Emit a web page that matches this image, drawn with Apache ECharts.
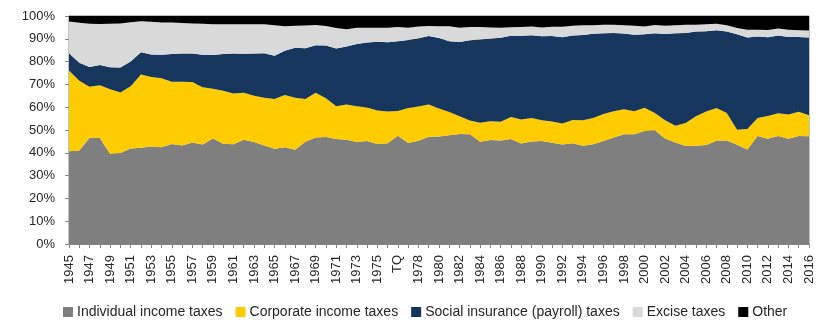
<!DOCTYPE html>
<html>
<head>
<meta charset="utf-8">
<script src="https://cdn.jsdelivr.net/npm/echarts@6/dist/echarts.min.js"></script>
<style>
  html, body { margin: 0; padding: 0; background: #ffffff; }
  #chart { width: 819px; height: 321px; }
</style>
</head>
<body>
<div id="chart"></div>
<script>
// Fiscal years, including the 1976 transition quarter (TQ)
const categories = [
  '1945','1946','1947','1948','1949','1950','1951','1952','1953','1954',
  '1955','1956','1957','1958','1959','1960','1961','1962','1963','1964',
  '1965','1966','1967','1968','1969','1970','1971','1972','1973','1974',
  '1975','1976','TQ','1977','1978','1979','1980','1981','1982','1983',
  '1984','1985','1986','1987','1988','1989','1990','1991','1992','1993',
  '1994','1995','1996','1997','1998','1999','2000','2001','2002','2003',
  '2004','2005','2006','2007','2008','2009','2010','2011','2012','2013',
  '2014','2015','2016'
];

// Share of total federal receipts by source, percent
const individualIncome = [
  40.7, 41.0, 46.6, 46.5, 39.5, 39.9, 41.9, 42.2, 42.8, 42.4,
  43.9, 43.2, 44.5, 43.6, 46.3, 44.0, 43.8, 45.7, 44.7, 43.2,
  41.8, 42.4, 41.3, 44.9, 46.7, 46.9, 46.1, 45.7, 44.7, 45.2,
  43.9, 44.2, 47.5, 44.3, 45.3, 47.0, 47.2, 47.7, 48.2, 48.1,
  44.8, 45.6, 45.4, 46.0, 44.1, 45.0, 45.2, 44.4, 43.6, 44.2,
  43.1, 43.7, 45.2, 46.7, 48.1, 48.1, 49.6, 49.9, 46.3, 44.5,
  43.0, 43.1, 43.4, 45.3, 45.4, 43.5, 41.5, 47.4, 46.2, 47.4,
  46.2, 47.4, 47.3
];
const corporateIncome = [
  35.4, 30.6, 22.4, 23.1, 28.4, 26.6, 27.3, 32.1, 30.5, 30.3,
  27.3, 28.0, 26.5, 25.2, 21.8, 23.2, 22.2, 20.6, 20.3, 20.9,
  21.8, 23.0, 22.8, 18.7, 19.6, 17.0, 14.3, 15.5, 15.7, 14.7,
  14.6, 13.9, 10.8, 15.4, 15.0, 14.2, 12.2, 10.2, 7.8, 6.1,
  8.4, 8.2, 8.2, 9.7, 10.5, 10.3, 9.1, 9.3, 9.2, 10.2,
  11.2, 11.6, 11.8, 11.5, 11.0, 10.1, 10.2, 7.6, 8.0, 7.4,
  10.1, 12.9, 14.7, 14.4, 12.1, 6.6, 8.9, 7.9, 9.9, 9.9,
  10.6, 10.6, 9.2
];
const socialInsurance = [
  7.6, 7.9, 8.6, 8.9, 9.6, 10.9, 10.8, 9.8, 9.8, 10.3,
  12.1, 12.4, 12.6, 14.2, 14.8, 16.1, 17.5, 17.1, 18.6, 19.6,
  19.0, 19.4, 22.0, 22.3, 20.9, 23.2, 25.3, 25.4, 27.3, 28.5,
  30.2, 30.4, 30.6, 29.8, 29.9, 30.0, 31.0, 31.0, 32.6, 35.2,
  36.5, 36.3, 36.9, 35.6, 36.7, 36.3, 36.8, 37.5, 37.9, 37.0,
  37.4, 36.9, 35.4, 34.3, 33.2, 33.6, 32.2, 34.9, 37.8, 40.5,
  39.4, 37.2, 35.2, 34.0, 35.7, 41.9, 40.2, 35.7, 34.6, 34.2,
  34.0, 32.8, 34.1
];
const excise = [
  13.9, 17.5, 19.0, 18.0, 19.1, 19.3, 17.3, 13.6, 14.4, 14.2,
  13.8, 13.3, 13.1, 13.6, 13.5, 13.1, 12.9, 13.0, 12.8, 12.7,
  13.3, 10.7, 9.6, 9.9, 8.9, 8.5, 9.0, 7.6, 7.1, 6.5,
  6.2, 6.4, 6.3, 5.4, 5.2, 4.4, 5.1, 6.6, 6.3, 5.8,
  5.5, 4.9, 4.4, 3.8, 3.9, 3.8, 3.9, 4.1, 4.6, 4.3,
  4.2, 3.7, 3.8, 3.7, 3.6, 3.9, 3.4, 3.7, 3.6, 3.5,
  3.7, 3.0, 3.1, 2.9, 2.7, 2.7, 3.4, 3.0, 3.2, 3.0,
  3.2, 3.0, 3.0
];
const other = [
  2.4, 3.0, 3.4, 3.5, 3.4, 3.3, 2.7, 2.3, 2.5, 2.8,
  2.9, 3.1, 3.3, 3.4, 3.6, 3.6, 3.6, 3.6, 3.6, 3.6,
  4.1, 4.5, 4.3, 4.2, 3.9, 4.4, 5.3, 5.8, 5.2, 5.1,
  5.1, 5.1, 4.8, 5.1, 4.6, 4.4, 4.5, 4.5, 5.1, 4.8,
  4.8, 5.0, 5.1, 4.9, 4.8, 4.6, 5.0, 4.7, 4.7, 4.3,
  4.1, 4.1, 3.8, 3.8, 4.1, 4.3, 4.6, 3.9, 4.3, 4.1,
  3.8, 3.8, 3.6, 3.4, 4.1, 5.3, 6.0, 6.0, 6.1, 5.5,
  6.0, 6.2, 6.4
];

const seriesNames = [
  'Individual income taxes',
  'Corporate income taxes',
  'Social insurance (payroll) taxes',
  'Excise taxes',
  'Other'
];
const seriesData = [individualIncome, corporateIncome, socialInsurance, excise, other];
const seriesColors = ['#7f7f7f', '#ffcc00', '#17365d', '#d9d9d9', '#000000'];

const FONT = '"Liberation Sans", Arial, sans-serif';
const TEXT_COLOR = '#262626';
const AXIS_COLOR = '#868686';

const chart = echarts.init(document.getElementById('chart'), null, { renderer: 'canvas' });

chart.setOption({
  animation: false,
  backgroundColor: '#ffffff',
  color: seriesColors,
  grid: {
    left: 69,
    right: 10,
    top: 16,
    bottom: 77,
    show: true,
    borderColor: AXIS_COLOR,
    borderWidth: 1,
    backgroundColor: 'transparent'
  },
  legend: {
    left: 58,
    top: 300,
    itemWidth: 10,
    itemHeight: 10,
    itemGap: 13,
    icon: 'rect',
    textStyle: { fontFamily: FONT, fontSize: 14, color: TEXT_COLOR, padding: [0, 0, 0, -1] },
    data: seriesNames
  },
  xAxis: {
    type: 'category',
    boundaryGap: false,
    data: categories,
    axisLine: { lineStyle: { color: AXIS_COLOR, width: 1 } },
    axisTick: { show: true, interval: 0, length: 4, lineStyle: { color: AXIS_COLOR } },
    axisLabel: {
      interval: 1,
      rotate: 90,
      margin: 11,
      fontFamily: FONT,
      fontSize: 13,
      color: TEXT_COLOR
    },
    splitLine: { show: false }
  },
  yAxis: {
    type: 'value',
    min: 0,
    max: 100,
    interval: 10,
    axisLine: { show: true, lineStyle: { color: AXIS_COLOR, width: 1 } },
    axisTick: { show: true, length: 4, lineStyle: { color: AXIS_COLOR } },
    axisLabel: {
      formatter: '{value}%',
      margin: 14,
      fontFamily: FONT,
      fontSize: 13,
      color: TEXT_COLOR
    },
    splitLine: { show: true, lineStyle: { color: AXIS_COLOR, width: 1 } }
  },
  series: seriesNames.map((name, i) => ({
    name: name,
    type: 'line',
    stack: 'receipts',
    data: seriesData[i],
    symbol: 'none',
    smooth: false,
    lineStyle: { width: 0 },
    areaStyle: { color: seriesColors[i], opacity: 1 },
    itemStyle: { color: seriesColors[i] },
    emphasis: { disabled: true }
  }))
});
</script>
</body>
</html>
